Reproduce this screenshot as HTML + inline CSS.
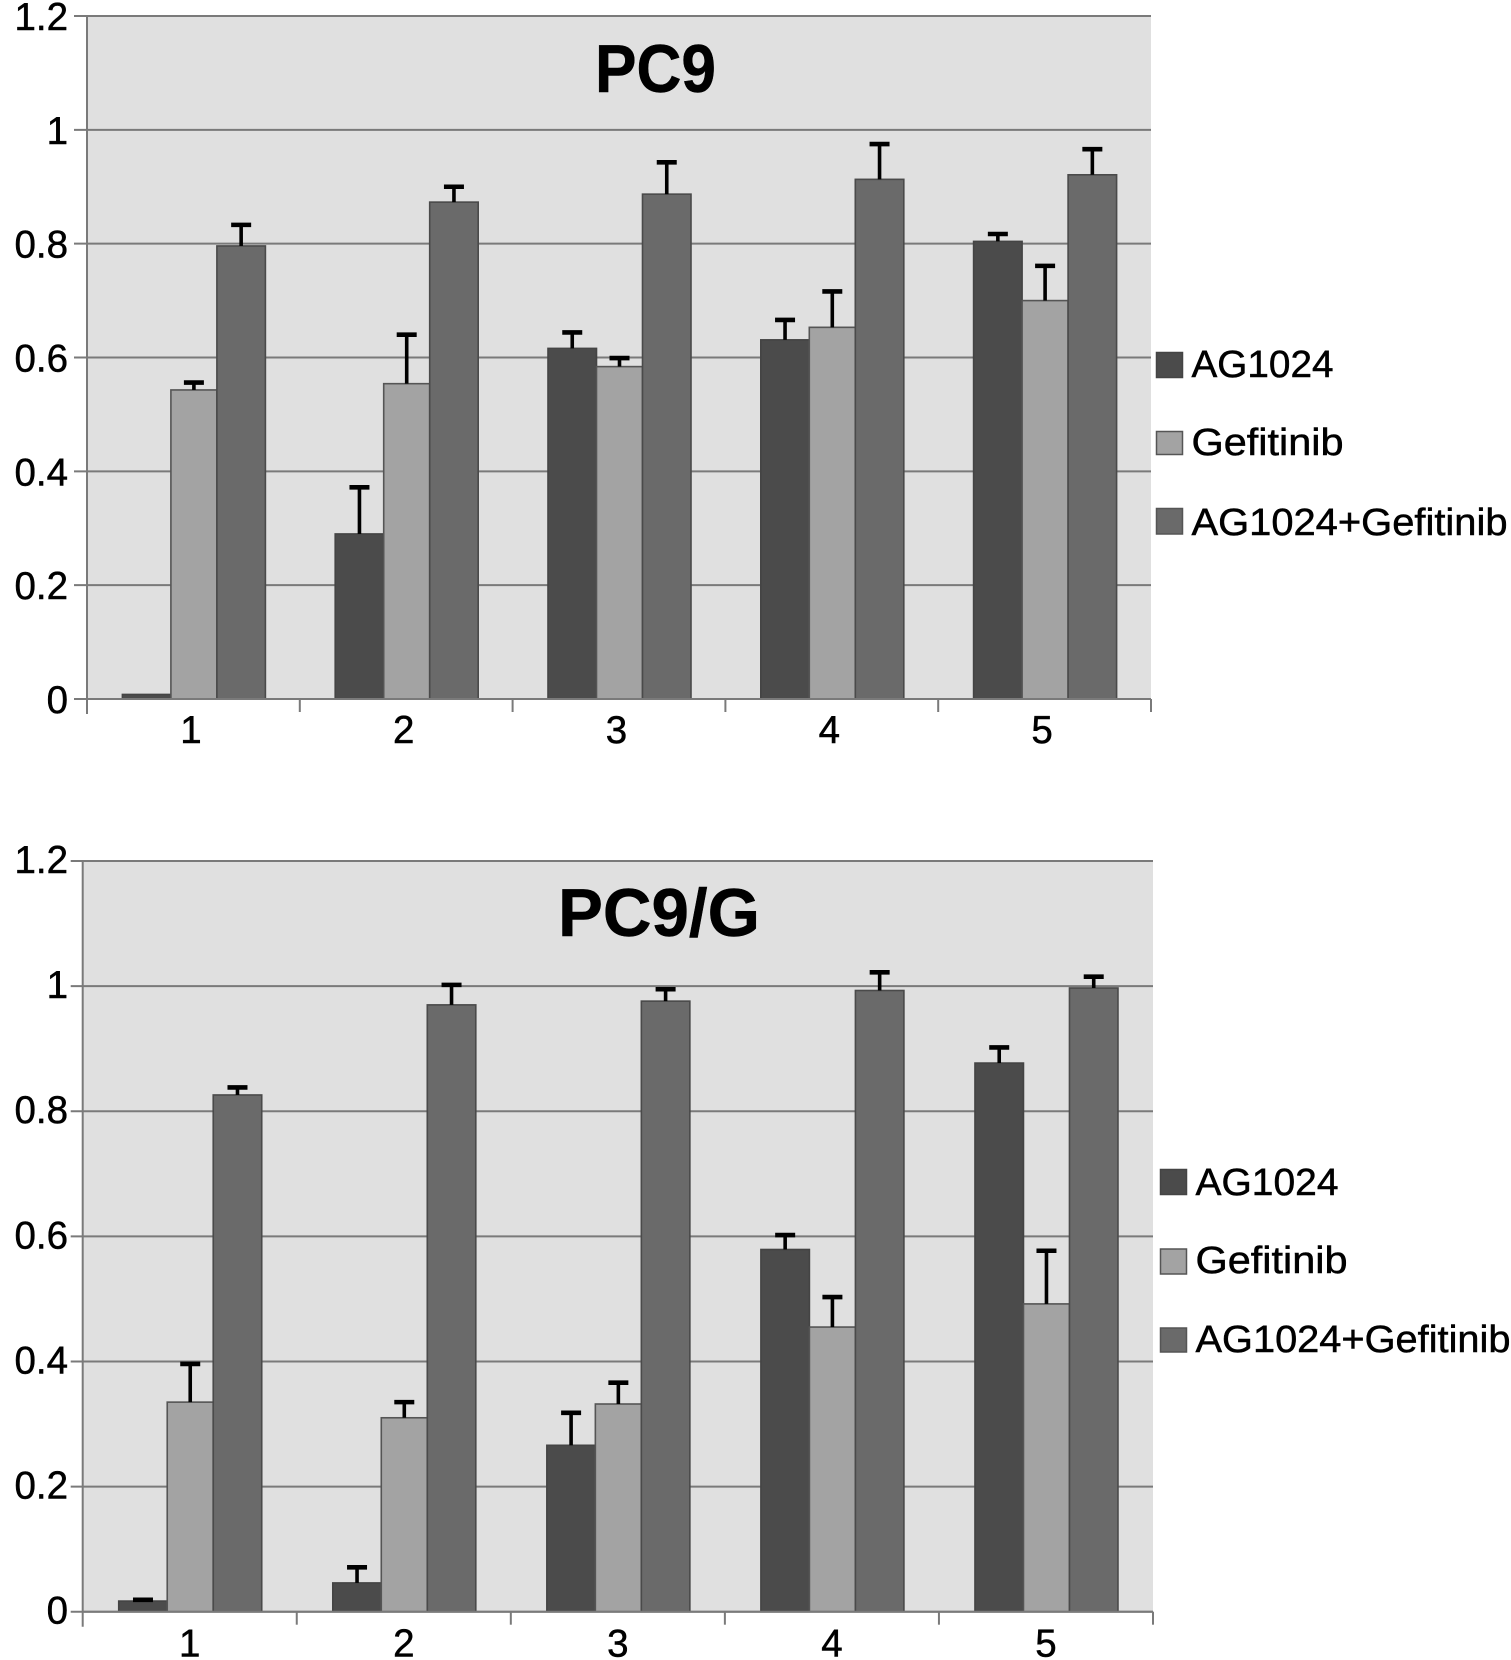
<!DOCTYPE html>
<html lang="en">
<head>
<meta charset="utf-8">
<title>PC9 and PC9/G bar charts</title>
<style>
html,body{margin:0;padding:0;background:#fff;}
svg{display:block;filter:blur(0.35px);}
text{font-family:"Liberation Sans",sans-serif;fill:#000;stroke:#000;stroke-width:0.5px;}
.title{font-size:68px;font-weight:bold;}
.legend{font-size:38px;}
</style>
</head>
<body>
<svg id="figure" width="1511" height="1660" viewBox="0 0 1511 1660" xmlns="http://www.w3.org/2000/svg">
  <g id="chart-pc9"></g>
  <g id="chart-pc9g"></g>

  <text class="title" x="595" y="92" textLength="121" lengthAdjust="spacingAndGlyphs">PC9</text>
  <text class="title" x="558" y="936" textLength="202" lengthAdjust="spacingAndGlyphs">PC9/G</text>

  <g>
    <rect x="1156.5" y="352.5" width="26" height="25" fill="#4b4b4b" stroke="#444" stroke-width="1.5"/>
    <text class="legend" x="1191.5" y="377" textLength="142" lengthAdjust="spacingAndGlyphs">AG1024</text>
    <rect x="1156.5" y="431.5" width="26" height="23" fill="#a3a3a3" stroke="#555" stroke-width="1.5"/>
    <text class="legend" x="1191.5" y="455" textLength="152" lengthAdjust="spacingAndGlyphs">Gefitinib</text>
    <rect x="1156.5" y="508.5" width="26" height="25.5" fill="#6a6a6a" stroke="#555" stroke-width="1.5"/>
    <text class="legend" x="1191.5" y="535" textLength="316" lengthAdjust="spacingAndGlyphs">AG1024+Gefitinib</text>
  </g>

  <g>
    <rect x="1160.5" y="1169.5" width="26" height="25" fill="#4b4b4b" stroke="#444" stroke-width="1.5"/>
    <text class="legend" x="1195.5" y="1195" textLength="143" lengthAdjust="spacingAndGlyphs">AG1024</text>
    <rect x="1160.5" y="1249" width="26" height="25" fill="#a3a3a3" stroke="#555" stroke-width="1.5"/>
    <text class="legend" x="1195.5" y="1273" textLength="152" lengthAdjust="spacingAndGlyphs">Gefitinib</text>
    <rect x="1160.5" y="1328" width="26" height="24" fill="#6a6a6a" stroke="#555" stroke-width="1.5"/>
    <text class="legend" x="1195.5" y="1352" textLength="315" lengthAdjust="spacingAndGlyphs">AG1024+Gefitinib</text>
  </g>
</svg>

<script>
var categories = ['1', '2', '3', '4', '5'];
var tickValues = [0, 0.2, 0.4, 0.6, 0.8, 1, 1.2];
var tickLabels = ['0', '0.2', '0.4', '0.6', '0.8', '1', '1.2'];
var seriesNames = ['ag1024', 'gefitinib', 'combination'];

var pc9Ag1024 = [0.008, 0.29, 0.616, 0.631, 0.804];
var pc9Gefitinib = [0.543, 0.554, 0.584, 0.653, 0.70];
var pc9Combination = [0.796, 0.873, 0.887, 0.913, 0.921];
var pc9Ag1024Err = [0, 0.082, 0.028, 0.035, 0.013];
var pc9GefitinibErr = [0.013, 0.086, 0.015, 0.063, 0.061];
var pc9CombinationErr = [0.037, 0.027, 0.056, 0.062, 0.045];

var pc9gAg1024 = [0.017, 0.046, 0.266, 0.579, 0.877];
var pc9gGefitinib = [0.335, 0.31, 0.332, 0.455, 0.492];
var pc9gCombination = [0.826, 0.97, 0.976, 0.993, 0.997];
var pc9gAg1024Err = [0.002, 0.025, 0.052, 0.023, 0.025];
var pc9gGefitinibErr = [0.061, 0.025, 0.034, 0.048, 0.085];
var pc9gCombinationErr = [0.012, 0.032, 0.019, 0.029, 0.018];

var SVG_NS = 'http://www.w3.org/2000/svg';
var GRID = '#7a7a7a';
var FILLS = ['#4b4b4b', '#a3a3a3', '#6a6a6a'];
var STROKES = ['#444', '#555', '#4a4a4a'];
var BAR_EDGES = [-71.5, -23, 23, 71.5];

function make(tag, parent, props) {
  var el = document.createElementNS(SVG_NS, tag);
  for (var k in props) el.setAttribute(k, props[k]);
  parent.appendChild(el);
  return el;
}

function drawChart(rootId, layout, values, errors) {
  var root = document.getElementById(rootId);
  var unit = (layout.bottom - layout.top) / 1.2;
  var catW = (layout.right - layout.left) / categories.length;
  function yScale(v) { return layout.bottom - v * unit; }
  function catCenter(i) { return layout.left + catW * (i + 0.5); }

  var bg = make('rect', root, {x: layout.left, y: layout.top, width: layout.right - layout.left, height: layout.bottom - layout.top, fill: '#e0e0e0'});
  
  

  tickValues.forEach(function (v, i) {
    var y = yScale(v);
    var grid = make('line', root, {x1: layout.left - layout.tickLen, x2: layout.right, y1: y, y2: y, stroke: GRID, 'stroke-width': 2});
    
    
    var label = make('text', root, {x: 68, y: y + layout.labelDy, 'font-size': 38.5, 'text-anchor': 'end'});
    
    
    label.textContent = tickLabels[i];
  });

  var yAxis = make('line', root, {x1: layout.left, x2: layout.left, y1: layout.top, y2: layout.bottom + 15, stroke: GRID, 'stroke-width': 2});
  
  

  categories.forEach(function (c, i) {
    var cx = catCenter(i) + layout.barShift;
    values.forEach(function (series, s) {
      var x0 = cx + BAR_EDGES[s];
      var x1 = cx + BAR_EDGES[s + 1];
      var y = yScale(series[i]);
      var bar = make('rect', root, {x: x0, y: y, width: x1 - x0, height: layout.bottom - y, fill: FILLS[s], stroke: STROKES[s], 'stroke-width': 1.6});
      
      
    });
  });

  categories.forEach(function (c, i) {
    var cx = catCenter(i) + layout.barShift;
    values.forEach(function (series, s) {
      if (!errors[s][i]) return;
      var mid = cx + (BAR_EDGES[s] + BAR_EDGES[s + 1]) / 2;
      var yv = yScale(series[i]);
      var yt = yScale(series[i] + errors[s][i]);
      var stem = make('line', root, {x1: mid, x2: mid, y1: yv, y2: yt, stroke: '#000', 'stroke-width': 3.6});
      
      
      var cap = make('line', root, {x1: mid - 10, x2: mid + 10, y1: yt, y2: yt, stroke: '#000', 'stroke-width': 4.6});
      
      
    });
  });

  var xAxis = make('line', root, {x1: layout.left, x2: layout.right, y1: layout.bottom, y2: layout.bottom, stroke: GRID, 'stroke-width': 2});
  
  

  for (var t = 1; t <= categories.length; t++) {
    var tx = layout.left + catW * t;
    var tick = make('line', root, {x1: tx, x2: tx, y1: layout.bottom, y2: layout.bottom + 13, stroke: GRID, 'stroke-width': 2});
    
    
  }

  categories.forEach(function (c, i) {
    var label = make('text', root, {x: catCenter(i) + layout.xLabelDx, y: layout.bottom + layout.xLabelDy, 'font-size': 38.5, 'text-anchor': 'middle'});
    
    
    label.textContent = c;
  });
}

drawChart('chart-pc9',
  {left: 87, right: 1151, top: 16, bottom: 699, tickLen: 13, labelDy: 14, xLabelDy: 44, xLabelDx: -2.5, barShift: 0.5},
  [pc9Ag1024, pc9Gefitinib, pc9Combination],
  [pc9Ag1024Err, pc9GefitinibErr, pc9CombinationErr]);

drawChart('chart-pc9g',
  {left: 82.7, right: 1153, top: 861, bottom: 1611.7, tickLen: 12, labelDy: 12, xLabelDy: 45, xLabelDx: 0, barShift: 0.5},
  [pc9gAg1024, pc9gGefitinib, pc9gCombination],
  [pc9gAg1024Err, pc9gGefitinibErr, pc9gCombinationErr]);

var fig = document.getElementById('figure');
Array.prototype.slice.call(fig.querySelectorAll('.title')).forEach(function (t) { fig.appendChild(t); });
</script>
</body>
</html>
